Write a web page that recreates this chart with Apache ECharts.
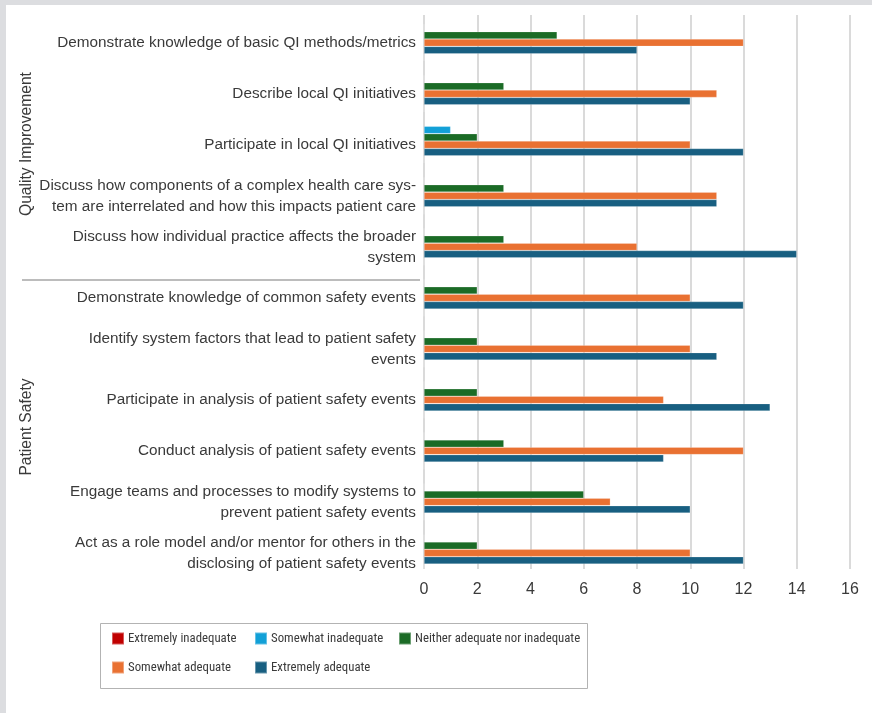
<!DOCTYPE html>
<html>
<head>
<meta charset="utf-8">
<script src="https://cdn.jsdelivr.net/npm/echarts@6/dist/echarts.min.js"></script>
<style>
  html, body { margin: 0; padding: 0; }
  #wrap { position: relative; width: 872px; height: 713px; background: #dcdde0; overflow: hidden; }
  #panel { position: absolute; left: 6px; top: 5px; right: 0; bottom: 0; background: #ffffff; }
  #chart { position: absolute; left: 0; top: 0; width: 872px; height: 713px; }
</style>
</head>
<body>
<div id="wrap">
  <div id="panel"></div>
  <div id="chart"></div>
</div>
<script>
// Competency items, top to bottom
const categories = [
  'Demonstrate knowledge of basic QI methods/metrics',
  'Describe local QI initiatives',
  'Participate in local QI initiatives',
  'Discuss how components of a complex health care sys-\ntem are interrelated and how this impacts patient care',
  'Discuss how individual practice affects the broader\nsystem',
  'Demonstrate knowledge of common safety events',
  'Identify system factors that lead to patient safety\nevents',
  'Participate in analysis of patient safety events',
  'Conduct analysis of patient safety events',
  'Engage teams and processes to modify systems to\nprevent patient safety events',
  'Act as a role model and/or mentor for others in the\ndisclosing of patient safety events'
];

// Response counts per rating
const extremelyInadequate = [0, 0, 0, 0, 0, 0, 0, 0, 0, 0, 0];
const somewhatInadequate  = [0, 0, 1, 0, 0, 0, 0, 0, 0, 0, 0];
const neitherAdequate     = [5, 3, 2, 3, 3, 2, 2, 2, 3, 6, 2];
const somewhatAdequate    = [12, 11, 10, 11, 8, 10, 10, 9, 12, 7, 10];
const extremelyAdequate   = [8, 10, 12, 11, 14, 12, 11, 13, 9, 10, 12];

const seriesNames = [
  'Extremely inadequate',
  'Somewhat inadequate',
  'Neither adequate nor inadequate',
  'Somewhat adequate',
  'Extremely adequate'
];
const seriesValues = [extremelyInadequate, somewhatInadequate, neitherAdequate, somewhatAdequate, extremelyAdequate];
const seriesColors = ['#c00000', '#12a0d7', '#1b6b26', '#e97132', '#185f81'];
// Order of the bars inside each group, top to bottom
const barOrder = [1, 2, 3, 4, 0];

// Value axis range
const xMin = 0, xMax = 16, xStep = 2;

const groupTitles = [
  { text: 'Quality Improvement', x: 27, y: 144 },
  { text: 'Patient Safety', x: 27, y: 427 }
];

const FONT = '"Liberation Sans", Arial, sans-serif';
const CONDENSED = '"Roboto Condensed", "Liberation Sans", sans-serif';
const TXT = '#3a3a3a';

const chart = echarts.init(document.getElementById('chart'), null, { renderer: 'canvas' });

// One legend column per position so the entries line up in a 3-column table
function legendAt(left, names) {
  return {
    left: left, top: 631, data: names,
    orient: 'vertical',
    icon: 'rect',
    padding: 0,
    itemWidth: 12,
    itemHeight: 12,
    itemGap: 14,
    selectedMode: false,
    textStyle: { fontFamily: CONDENSED, fontSize: 12.8, lineHeight: 15, color: TXT, padding: [0, 0, 0, -1] }
  };
}

const option = {
  backgroundColor: 'transparent',
  animation: false,
  grid: [
    { left: 424, width: 426, top: 15, height: 554 },
    { left: 424, width: 426, top: 17.2, height: 561.3 }
  ],
  xAxis: [
    {
      gridIndex: 0, type: 'value', min: xMin, max: xMax, interval: xStep,
      axisLine: { show: false }, axisTick: { show: false },
      axisLabel: { fontFamily: FONT, fontSize: 16, color: TXT, margin: 13 },
      splitLine: { show: true, lineStyle: { color: '#dadada', width: 2 } }
    },
    {
      gridIndex: 1, type: 'value', min: xMin, max: xMax, interval: xStep, show: false
    }
  ],
  yAxis: [
    { gridIndex: 0, type: 'category', data: categories, inverse: true, show: false },
    {
      gridIndex: 1, type: 'category', data: categories, inverse: true,
      axisLine: { show: false }, axisTick: { show: false },
      splitLine: { show: false },
      axisLabel: {
        fontFamily: FONT, fontSize: 15.3, color: TXT, margin: 8,
        lineHeight: 21, align: 'right'
      }
    }
  ],
  legend: [
    legendAt(111, [seriesNames[0], seriesNames[3]]),
    legendAt(254, [seriesNames[1], seriesNames[4]]),
    legendAt(398, [seriesNames[2]])
  ],
  series: barOrder.map(i => ({
    name: seriesNames[i],
    type: 'bar',
    xAxisIndex: 1,
    yAxisIndex: 1,
    data: seriesValues[i],
    barCategoryGap: '27.5%',
    barGap: '0%',
    itemStyle: {
      color: seriesColors[i],
      borderColor: 'rgba(255,255,255,0.35)',
      borderWidth: 0.6
    }
  })),
  graphic: [
    {
      type: 'line', z: 5,
      shape: { x1: 22, y1: 280, x2: 420, y2: 280 },
      style: { stroke: '#a6a6a6', lineWidth: 1.5 }
    },
    {
      type: 'rect', z: -1,
      shape: { x: 100.5, y: 623.5, width: 487, height: 65 },
      style: { fill: '#ffffff', stroke: '#b3b3b3', lineWidth: 1 }
    }
  ].concat(groupTitles.map(g => ({
    type: 'text',
    x: g.x, y: g.y,
    rotation: Math.PI / 2,
    style: {
      text: g.text, fontFamily: FONT, fontSize: 15.6, fill: TXT,
      textAlign: 'center', textVerticalAlign: 'middle'
    }
  })))
};

chart.setOption(option);
</script>
</body>
</html>
